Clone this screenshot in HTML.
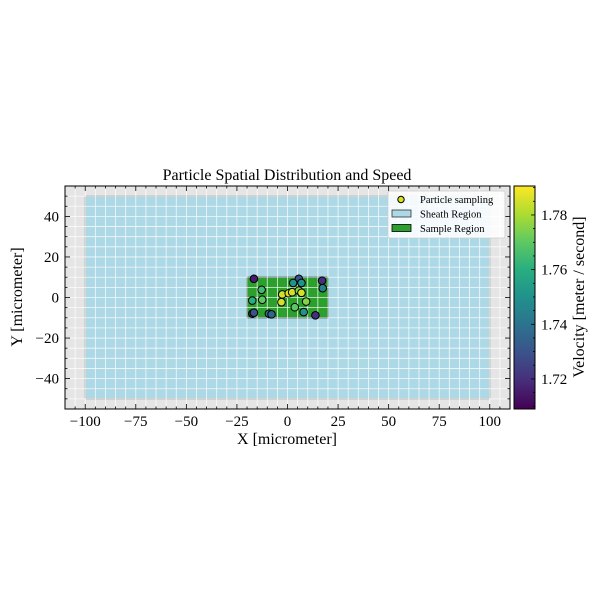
<!DOCTYPE html>
<html><head><meta charset="utf-8"><style>
body{margin:0;background:#fff}
svg{display:block;font-family:"Liberation Serif","DejaVu Serif",serif}
text{fill:#000}
</style></head><body>
<svg id="chart" width="600" height="600" viewBox="0 0 600 600" xmlns="http://www.w3.org/2000/svg">
<defs>
<linearGradient id="vir" x1="0" y1="1" x2="0" y2="0">
<stop offset="0" stop-color="#440154"/><stop offset="0.125" stop-color="#472d7b"/>
<stop offset="0.25" stop-color="#3b528b"/><stop offset="0.375" stop-color="#2c728e"/>
<stop offset="0.5" stop-color="#21918c"/><stop offset="0.625" stop-color="#28ae80"/>
<stop offset="0.75" stop-color="#5ec962"/><stop offset="0.875" stop-color="#addc30"/>
<stop offset="1" stop-color="#fde725"/>
</linearGradient>
<clipPath id="pc"><rect x="65" y="186" width="445" height="223"/></clipPath>
</defs>
<g id="plot"></g>
</svg>
<script>
const xTicks=[-100,-75,-50,-25,0,25,50,75,100];
const yTicks=[-40,-20,0,20,40];
const cTicks=[1.72,1.74,1.76,1.78];
const px=[-16.6,5.6,2.8,6.9,17.1,17.4,-12.8,-2.6,0.6,2.3,5.6,6.9,-17.4,-12.5,-3,9.2,3.6,-17.4,-16.6,-9.2,-7.9,8,13.8];
const py=[9.2,9.2,7.2,7.2,8.3,4.6,3.8,1.5,2.1,2.6,3.4,2.3,-1.5,-1.1,-2.3,-2,-4.8,-8,-7.5,-8,-8.3,-7.2,-8.8];
const pv=[1.715,1.73,1.75,1.75,1.72,1.745,1.765,1.785,1.786,1.785,1.775,1.785,1.76,1.77,1.785,1.775,1.77,1.72,1.73,1.74,1.735,1.75,1.72];
const sheath=[-100,100,-50,50];
const sample=[-20,20,-10,10];
const X0=65,X1=510,Y0=186,Y1=409,xmin=-110,xmax=110,ymin=-55,ymax=55,vmin=1.709,vmax=1.7906;
const sx=v=>X0+(v-xmin)/(xmax-xmin)*(X1-X0);
const sy=v=>Y1-(v-ymin)/(ymax-ymin)*(Y1-Y0);
const CB0=514,CB1=535,cy=v=>Y1-(v-vmin)/(vmax-vmin)*(Y1-Y0);
const VIR=["#440154","#472d7b","#3b528b","#2c728e","#21918c","#28ae80","#5ec962","#addc30","#fde725"];
function vir(v){let t=Math.max(0,Math.min(1,(v-vmin)/(vmax-vmin)))*8;let i=Math.min(7,Math.floor(t)),f=t-i;
const a=VIR[i],b=VIR[i+1];const c=k=>Math.round(parseInt(a.substr(k,2),16)*(1-f)+parseInt(b.substr(k,2),16)*f);
return `rgb(${c(1)},${c(3)},${c(5)})`;}
const NS="http://www.w3.org/2000/svg",g=document.getElementById('plot');
function el(t,a,p){const e=document.createElementNS(NS,t);for(const k in a)e.setAttribute(k,a[k]);(p||g).appendChild(e);return e;}
let e;
e=el('rect',{x:X0,y:Y0,width:X1-X0,height:Y1-Y0,fill:'#e5e5e5'});


const grid=el('g',{'clip-path':'url(#pc)'});


e=el('rect',{x:sx(sheath[0]),y:sy(sheath[3]),width:sx(sheath[1])-sx(sheath[0]),height:sy(sheath[2])-sy(sheath[3]),fill:'#add8e6',stroke:'#a8a8a8','stroke-width':1.5,rx:1.5});


e=el('rect',{x:sx(sample[0]),y:sy(sample[3]),width:sx(sample[1])-sx(sample[0]),height:sy(sample[2])-sy(sample[3]),fill:'#2ca02c',stroke:'#000','stroke-width':1});


for(let v=-110;v<=110;v+=5)el('line',{x1:sx(v),x2:sx(v),y1:Y0,y2:Y1,stroke:'#fff','stroke-width':0.8,opacity:0.85},grid);
for(let v=-55;v<=55;v+=5)el('line',{y1:sy(v),y2:sy(v),x1:X0,x2:X1,stroke:'#fff','stroke-width':0.8,opacity:0.85},grid);
g.appendChild(grid);
for(let i=0;i<px.length;i++){e=el('circle',{cx:sx(px[i]),cy:sy(py[i]),r:3.8,fill:vir(pv[i]),stroke:'#000','stroke-width':1});

}
e=el('rect',{x:X0,y:Y0,width:X1-X0,height:Y1-Y0,fill:'none',stroke:'#000','stroke-width':1});


for(let v=-110;v<=110;v+=5){const maj=xTicks.includes(v),l=maj?5:2.5;
el('line',{x1:sx(v),x2:sx(v),y1:Y1,y2:Y1-l,stroke:'#000','stroke-width':0.8});
el('line',{x1:sx(v),x2:sx(v),y1:Y0,y2:Y0+l,stroke:'#000','stroke-width':0.8});}
for(let v=-55;v<=55;v+=5){const maj=yTicks.includes(v),l=maj?5:2.5;
el('line',{y1:sy(v),y2:sy(v),x1:X0,x2:X0+l,stroke:'#000','stroke-width':0.8});
el('line',{y1:sy(v),y2:sy(v),x1:X1,x2:X1-l,stroke:'#000','stroke-width':0.8});}
xTicks.forEach(v=>{e=el('text',{x:sx(v),y:Y1+17,'text-anchor':'middle','font-size':15});e.textContent=v<0?'−'+(-v):v;

});
yTicks.forEach(v=>{e=el('text',{x:X0-6,y:sy(v)+5,'text-anchor':'end','font-size':15});e.textContent=v<0?'−'+(-v):v;

});
e=el('text',{x:287,y:180,'text-anchor':'middle','font-size':16});e.textContent='Particle Spatial Distribution and Speed';


e=el('text',{x:287,y:444,'text-anchor':'middle','font-size':16});e.textContent='X [micrometer]';


e=el('text',{x:22,y:297,'text-anchor':'middle','font-size':16,transform:'rotate(-90 22 297)'});e.textContent='Y [micrometer]';


const lg=el('g',{});


el('rect',{x:388,y:191,width:117,height:47,fill:'#fff','fill-opacity':0.85,stroke:'#ccc','stroke-width':0.8,rx:2},lg);
e=el('circle',{cx:401,cy:199.5,r:3.2,fill:'#d8e219',stroke:'#000','stroke-width':1},lg);


e=el('rect',{x:392,y:210,width:19,height:7,fill:'#add8e6',stroke:'#333','stroke-width':0.8},lg);


e=el('rect',{x:392,y:224.5,width:19,height:7,fill:'#2ca02c',stroke:'#000','stroke-width':0.8},lg);


[['Particle sampling',203],['Sheath Region',217.5],['Sample Region',232]].forEach(([t,y])=>{e=el('text',{x:420,y:y,'font-size':10.5},lg);e.textContent=t;

});
e=el('rect',{x:CB0,y:Y0,width:CB1-CB0,height:Y1-Y0,fill:'url(#vir)',stroke:'#000','stroke-width':1});


for(let v=1.71;v<=1.79;v+=0.005){const maj=Math.abs(v*100-Math.round(v*100))<1e-6&&Math.round(v*100)%2===0;
el('line',{x1:CB1,x2:CB1-(maj?4:2),y1:cy(v),y2:cy(v),stroke:'#000','stroke-width':0.8});}
cTicks.forEach(v=>{e=el('text',{x:541,y:cy(v)+5,'font-size':15});e.textContent=v.toFixed(2);

});
e=el('text',{x:584,y:297,'text-anchor':'middle','font-size':16,transform:'rotate(-90 584 297)'});e.textContent='Velocity [meter / second]';


</script>
</body></html>
